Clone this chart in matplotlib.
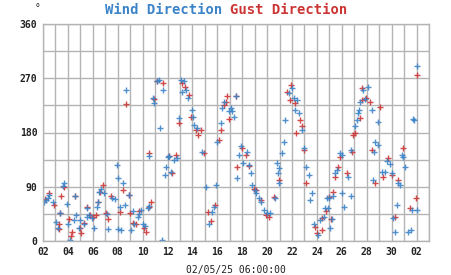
import matplotlib
matplotlib.use("Agg")
import matplotlib.pyplot as plt
import matplotlib.dates as mdates
from datetime import datetime, timedelta

# time as "day of April 2025" (32 = 2 May)
wind_day = [2.08, 2.25, 2.4, 2.5, 2.8, 3.07, 3.2, 3.33, 3.6, 3.7, 3.95, 4.0, 4.2, 4.48, 4.6, 4.67,
            4.93, 5.0, 5.28, 5.5, 5.55, 5.73, 5.9, 6.07, 6.35, 6.45, 6.53, 6.65, 6.9, 7.15, 7.2,
            7.55, 7.75, 7.95, 8.0, 8.05, 8.2, 8.27, 8.4, 8.6, 8.67, 8.93, 9.07, 9.33,
            9.2, 9.6, 9.73, 9.87, 10.0, 10.2, 10.4, 10.5, 10.53, 10.8, 10.93, 11.12, 11.33,
            11.41, 11.52, 11.6, 11.8, 11.87, 12.0, 12.13, 12.27, 12.53, 12.75, 12.93, 13.07,
            13.33, 13.2, 13.47, 13.68, 14.0, 14.08, 14.13, 14.4, 14.8, 15.12, 15.55, 15.33,
            15.73, 15.87, 16.0, 16.27, 16.4, 16.53, 16.93,
            17.07, 17.2, 17.33, 17.47, 17.6, 17.73, 17.87, 18.08, 18.4, 18.53, 18.67, 18.8,
            19.0, 19.13, 19.33, 19.47, 19.73, 20.0, 20.27, 20.61, 20.8, 20.93, 20.85, 20.97,
            21.2, 21.33, 21.47, 21.73, 22.0, 22.13, 22.4, 22.27, 22.53, 22.8, 23.0, 23.15,
            23.33, 23.6, 23.47, 23.73, 24.05, 24.27, 24.67, 24.8,
            24.6, 24.85, 24.93, 25.07, 25.2, 25.33, 25.47, 25.6, 25.87, 26.0, 26.02, 26.2,
            26.53, 26.75, 26.77, 27.07, 27.2, 27.33, 27.36, 27.47, 27.73, 27.87, 28.13, 28.4,
            28.53, 28.55, 28.67, 28.87, 28.93, 29.2, 29.47, 29.6, 29.87, 30.0, 30.13, 30.27,
            30.4, 30.53, 30.67, 30.8, 30.93, 31.07, 31.33, 31.53, 31.6, 31.73, 31.8, 32.0, 32.05]
wind_deg = [65, 68, 72, 76, 65, 32, 21, 46, 92, 96, 61, 29, 2, 35, 75, 43,
            21, 35, 29, 40, 55, 43, 38, 21, 57, 65, 82, 87, 79, 45, 20,
            71, 70, 126, 20, 104, 57, 19, 96, 60, 250, 76, 18, 29,
            49, 40, 45, 51, 29, 25, 54, 141, 58, 237, 229, 265, 267,
            188, 2, 250, 110, 123, 140, 141, 115, 134, 138, 204, 267,
            265, 248, 250, 238, 217, 205, 193, 187, 147, 89, 48, 29,
            57, 93, 165, 195, 220, 231, 215,
            220, 215, 205, 241, 104, 143, 157, 129, 148, 126, 112, 93,
            85, 79, 72, 65, 51, 46, 46, 71, 129, 121, 112, 96,
            146, 165, 201, 245, 253, 237, 234, 217, 212, 184, 154, 123,
            110, 79, 68, 29, 10, 35, 54, 71,
            40, 54, 71, 21, 36, 74, 112, 118, 146, 143, 79, 56,
            107, 74, 151, 190, 201, 212, 217, 231, 251, 236, 256, 217,
            101, 148, 165, 159, 198, 115, 115, 132, 128, 112, 38, 15,
            60, 96, 93, 143, 140, 123, 15, 19, 51, 202, 200, 51, 290]

gust_day = [2.2, 2.5, 2.85, 3.25, 3.3, 3.35, 3.47, 3.7, 4.1, 4.25, 4.3, 4.6, 4.95, 5.05, 5.3,
            5.55, 5.75, 6.0, 6.25, 6.45, 6.55, 6.8, 7.05, 7.25, 7.47, 8.2, 8.45, 8.67, 8.93,
            9.0, 9.2,
            9.47, 9.73, 10.13, 10.27, 10.5, 10.48, 10.67, 10.93, 11.12, 11.6, 12.13, 12.4,
            12.67, 12.93, 13.2, 13.4, 13.73, 13.87, 14.27, 14.47, 14.67, 14.93, 15.28, 15.47,
            15.8, 16.13, 16.27, 16.53, 16.67, 16.93,
            16.8, 17.47, 17.6, 18.0, 18.27, 18.53, 18.93, 19.07, 19.47, 19.87, 20.13, 20.53,
            20.93, 21.6, 21.92, 21.87, 22.27, 22.6, 22.8, 22.3, 22.93, 23.15, 23.87, 24.0, 24.4,
            24.42, 24.73, 24.98, 25.15, 25.33, 25.47, 25.73, 25.87, 26.4, 26.8, 26.93, 27.07,
            27.47, 27.6, 27.62, 27.93, 28.27, 28.4, 28.67, 29.07, 29.33, 29.73, 30.0, 30.27,
            30.53, 30.93, 31.47, 31.95, 32.05]
gust_deg = [70, 80, 60, 28, 20, 46, 75, 90, 36, 8, 15, 75, 22, 13, 30,
            57, 43, 40, 43, 65, 82, 93, 46, 36, 74, 48, 85, 228, 76,
            46, 30,
            29, 49, 21, 15, 146, 57, 65, 236, 265, 262, 141, 112,
            143, 196, 262, 256, 242, 206, 184, 176, 184, 146, 48, 33,
            59, 168, 184, 226, 231, 203,
            240, 241, 123, 154, 143, 125, 87, 85, 68, 43, 40, 73,
            101, 248, 259, 234, 229, 201, 190, 179, 151, 96, 24, 13, 38,
            19, 50, 73, 36, 82, 107, 123, 140, 113, 148, 176, 179,
            204, 234, 253, 237, 231, 151, 96, 223, 107, 137, 110, 40,
            101, 154, 54, 71, 276]

y_ticks = [0, 90, 180, 270, 360]
x_label = "02/05/25 06:00:00"

base = datetime(2025, 4, 1)
to_dt = lambda d: base + timedelta(days=d - 1)
wt = [to_dt(d) for d in wind_day]
gt = [to_dt(d) for d in gust_day]

BLUE = "#3c84c8"
RED = "#cc3535"
mono = "DejaVu Sans Mono"

fig = plt.figure(figsize=(4.51, 2.75), dpi=100)
ax = fig.add_axes([43/451, 1-241/275, (429-43)/451, (241-24)/275])

ax.plot(gt, gust_deg, linestyle="none", marker="+", color=RED, markersize=5, mew=1.0, alpha=0.9)
ax.plot(wt, wind_deg, linestyle="none", marker="+", color=BLUE, markersize=5, mew=1.0, alpha=0.9)

ax.set_xlim(datetime(2025, 4, 2), datetime(2025, 5, 3))
ax.set_ylim(0, 360)
ax.set_yticks(y_ticks)
ax.set_yticks(range(0, 361, 45), minor=True)
ax.xaxis.set_major_locator(mdates.DayLocator(interval=2, bymonthday=list(range(2, 32, 2))))
ax.xaxis.set_minor_locator(mdates.DayLocator())
ax.xaxis.set_major_formatter(mdates.DateFormatter("%d"))

ax.grid(True, which="both", color="#b4b4b4", linewidth=1.0)
ax.set_axisbelow(True)
for s in ax.spines.values():
    s.set_color("#b4b4b4")
    s.set_linewidth(1.0)
ax.tick_params(which="both", length=0, pad=4)
for lab in ax.get_xticklabels() + ax.get_yticklabels():
    lab.set_fontfamily(mono)
    lab.set_fontweight("bold")
    lab.set_fontsize(7)
    lab.set_color("#222222")

ax.set_xlabel(x_label, fontfamily=mono, fontsize=7, color="#222222", labelpad=6)

fig.text(105/451, 1-10/275, "Wind Direction", color=BLUE, fontfamily=mono,
         fontweight="bold", fontsize=10, ha="left", va="center")
fig.text(230/451, 1-10/275, "Gust Direction", color=RED, fontfamily=mono,
         fontweight="bold", fontsize=10, ha="left", va="center")
fig.text(38/451, 1-8/275, "°", color="#222222", fontfamily=mono, fontsize=7,
         ha="center", va="center")

fig.savefig("out.png", dpi=100)
